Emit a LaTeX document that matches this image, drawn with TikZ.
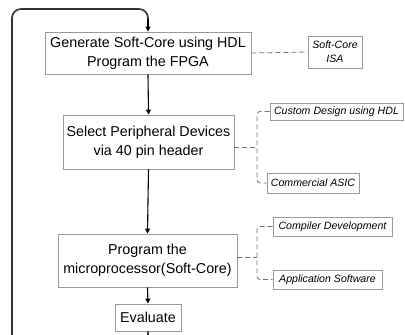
\documentclass[tikz,border=0pt]{standalone}
\usepackage{fontspec}
\setmainfont{Liberation Sans}
\usetikzlibrary{arrows.meta}
\begin{document}
\begin{tikzpicture}[x=1pt,y=-1pt,
  mainbox/.style={draw=black!40, line width=0.9pt, align=center, inner sep=0pt, font=\fontsize{14.3}{19}\selectfont},
  subbox/.style={draw=black!40, line width=0.8pt, align=center, inner sep=0pt, font=\fontsize{10.6}{14}\selectfont\itshape},
  flow/.style={draw=black, line width=1.1pt, -{Triangle[length=5pt,width=5pt]}},
  loopline/.style={draw=black!80, line width=1.6pt, rounded corners=9pt},
  dashline/.style={draw=black!55, line width=0.8pt, dash pattern=on 5pt off 3pt}]
\useasboundingbox (0,0) rectangle (405,335);
\clip (0,0) rectangle (405,335);
\node[mainbox, minimum width=206pt, minimum height=42pt] (b1) at (148,53) {Generate Soft-Core using HDL\\Program the FPGA};
\node[subbox, minimum width=54pt, minimum height=32pt] (isa) at (335,52) {Soft-Core\\ISA};
\node[mainbox, minimum width=171pt, minimum height=54pt] (b2) at (148.5,142) {Select Peripheral Devices\\via 40 pin header};
\node[subbox, minimum width=133pt, minimum height=17pt] (cust) at (336.5,111.5) {Custom Design using HDL};
\node[subbox, minimum width=92pt, minimum height=20pt] (comm) at (313,183) {Commercial ASIC};
\node[mainbox, minimum width=179pt, minimum height=53pt] (b3) at (147.5,260.5) {Program the\\microprocessor(Soft-Core)};
\node[subbox, minimum width=119pt, minimum height=19pt] (comp) at (332.5,226.5) {Compiler Development};
\node[subbox, minimum width=109pt, minimum height=19pt] (app) at (327.5,279.5) {Application Software};
\node[mainbox, minimum width=66pt, minimum height=27pt] (ev) at (148,317.5) {Evaluate};
\coordinate (j2) at (257,147);
\coordinate (j3) at (257,257);
\coordinate (lb) at (148,350);
\coordinate (ll) at (12,350);
\coordinate (lt) at (12,9);
\coordinate (rt) at (148,9);
\draw[dashline] (b1.east) -- (isa.west);
\draw[dashline] (b2.east |- j2) -- (j2);
\draw[dashline, rounded corners=3pt] (cust.west) -| (j2) |- (comm.west);
\draw[dashline] (b3.east |- j3) -- (j3);
\draw[dashline, rounded corners=3pt] (comp.west) -| (j3) |- (app.west);
\draw[flow] (b1.south) -- (b2.north);
\draw[flow] (b2.south) -- (b3.north);
\draw[flow] (b3.south) -- (ev.north);
\draw[loopline] (ev.south) -- (lb) -- (ll) -- (lt) -- (rt) -- ++(0,12);
\draw[flow] (rt) ++(0,10) -- (b1.north);
\end{tikzpicture}
\end{document}
